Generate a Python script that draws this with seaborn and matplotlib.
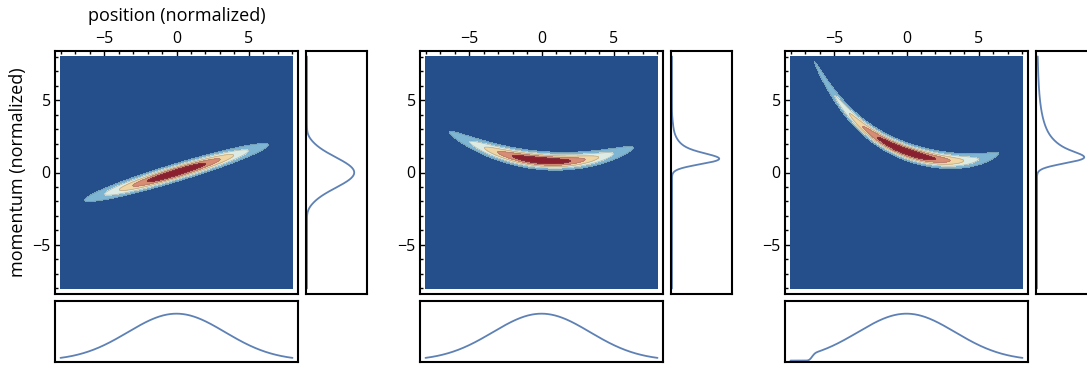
import numpy as np
import matplotlib.pyplot as plt
import seaborn as sns

# Ridge of each phase-space distribution (momentum centre vs position)
ridge_x = [
    [-6.0, 0.0, 6.0],
    [-6.3, -4.0, 0.0, 3.9, 6.3],
    [-6.5, -5.0, -2.7, -1.8, -0.9, 0.0, 2.0, 3.2, 4.1, 5.1, 6.5],
]
ridge_p = [
    [-1.8, 0.0, 1.8],
    [2.76, 1.7, 0.8, 1.1, 1.66],
    [7.9, 5.5, 2.75, 2.3, 1.85, 1.5, 0.95, 0.8, 0.78, 0.95, 1.38],
]
ridge_deg = [1, 2, 4]
sigma_x = 3.35  # spread along position
sigma_p = 0.33  # spread of momentum around the ridge

# Contour levels (fraction of peak) and Mathematica-like fill colours
levels = [-1, 1 / 6, 2 / 6, 3 / 6, 4 / 6, 5 / 6, 2]
fill_colors = ["#244f8b", "#7db5d3", "#dcebe3", "#f0d6a4", "#d98c74", "#8b1f2e"]
line_color = "#5e81b5"

sns.set_theme(style="white")
plt.rcParams['font.family'] = ['Open Sans', 'DejaVu Sans']

W, H = 1087, 367
fig = plt.figure(figsize=(W / 100, H / 100), dpi=100)


def rect(left, top, w, h):
    return [left / W, 1 - (top + h) / H, w / W, h / H]


lim = 8.38
grid = np.linspace(-8, 8, 641)
X, P = np.meshgrid(grid, grid)


def frame(a):
    for s in a.spines.values():
        s.set_visible(True)
        s.set_color("black")
        s.set_linewidth(1.5)


for i in range(3):
    L = 55 + 365 * i
    ax = fig.add_axes(rect(L, 51, 243, 243))
    axr = fig.add_axes(rect(L + 251, 51, 61, 243))
    axb = fig.add_axes(rect(L, 301, 243, 61))

    coef = np.polyfit(ridge_x[i], ridge_p[i], ridge_deg[i])
    centre = np.polyval(coef, X)
    Z = np.exp(-X ** 2 / (2 * sigma_x ** 2)) * np.exp(-(P - centre) ** 2 / (2 * sigma_p ** 2))
    Z = Z / Z.max()

    ax.contourf(X, P, Z, levels=levels, colors=fill_colors)
    ax.contour(X, P, Z, levels=levels[1:-1], colors="0.4", linewidths=0.5, alpha=0.4)
    ax.set_xlim(-lim, lim)
    ax.set_ylim(-lim, lim)
    ax.set_xticks([-5, 0, 5])
    ax.set_yticks([-5, 0, 5])
    ax.set_xticks(range(-8, 9), minor=True)
    ax.set_yticks(range(-8, 9), minor=True)
    ax.xaxis.tick_top()
    ax.tick_params(which="both", direction="in", top=True, bottom=False, left=True, right=False,
                   labeltop=True, labelbottom=False, color="black", width=1, labelsize=11.5,
                   labelcolor="black", pad=3)
    ax.tick_params(which="major", length=4)
    ax.tick_params(which="minor", length=2)
    frame(ax)
    if i == 0:
        ax.xaxis.set_label_position("top")
        ax.set_xlabel("position (normalized)", fontsize=13, labelpad=7, color="black")
        ax.set_ylabel("momentum (normalized)", fontsize=13, labelpad=4, color="black")

    # marginals over the plotted range
    mx = Z.sum(axis=0)
    mp = Z.sum(axis=1)
    sns.lineplot(x=grid, y=mx, ax=axb, color=line_color, linewidth=1.3)
    axb.set_xlim(-lim, lim)
    axb.set_ylim(-0.03 * mx.max(), 1.27 * mx.max())
    sns.lineplot(x=mp, y=grid, ax=axr, color=line_color, linewidth=1.3, sort=False, orient="y")
    axr.set_ylim(-lim, lim)
    axr.set_xlim(-0.02 * mp.max(), 1.27 * mp.max())
    for a in (axb, axr):
        a.set_xticks([])
        a.set_yticks([])
        a.set_xlabel("")
        a.set_ylabel("")
        frame(a)

fig.savefig("out.png", dpi=100)
